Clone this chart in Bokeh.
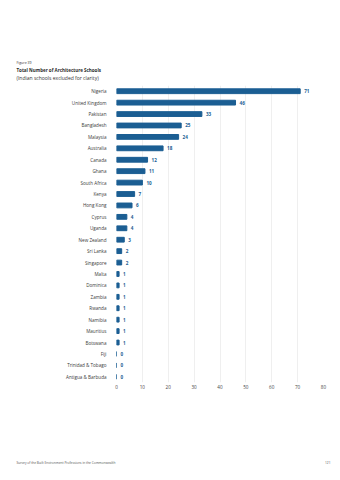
from bokeh.plotting import figure
from bokeh.models import ColumnDataSource, Title, FixedTicker
from bokeh.core.properties import value
from bokeh.embed import file_html
from bokeh.resources import INLINE

countries = ["Nigeria", "United Kingdom", "Pakistan", "Bangladesh", "Malaysia", "Australia",
             "Canada", "Ghana", "South Africa", "Kenya", "Hong Kong", "Cyprus", "Uganda",
             "New Zealand", "Sri Lanka", "Singapore", "Malta", "Dominica", "Zambia", "Rwanda",
             "Namibia", "Mauritius", "Botswana", "Fiji", "Trinidad & Tobago", "Antigua & Barbuda"]
schools = [71, 46, 33, 25, 24, 18, 12, 11, 10, 7, 6, 4, 4, 3, 2, 2, 1, 1, 1, 1, 1, 1, 1, 0, 0, 0]
x_ticks = [0, 10, 20, 30, 40, 50, 60, 70, 80]

BLUE = "#1b5e93"
FONT = "Open Sans"

# frame placement (canvas pixels)
FL, FR, FT, FB = 116, 323, 85, 382

src = ColumnDataSource(dict(c=countries, v=schools, t=[str(s) for s in schools]))

p = figure(width=340, height=480, y_range=list(reversed(countries)), x_range=(0, 80),
           output_backend="svg", toolbar_location=None,
           min_border_left=FL, min_border_right=340 - FR, min_border_top=FT,
           min_border_bottom=480 - FB)
p.outline_line_color = None
p.background_fill_color = "white"
p.border_fill_color = "white"
p.y_range.range_padding = 0.0

p.hbar(y="c", right="v", left=0, height=0.42, source=src, color=BLUE)
p.text(x="v", y="c", text="t", source=src, x_offset=4, text_align="left", text_baseline="middle",
       text_font=value(FONT), text_font_size="4.6px", text_font_style="bold", text_color=BLUE)

p.xaxis.ticker = FixedTicker(ticks=x_ticks)
p.xaxis.axis_line_color = None
p.xaxis.major_tick_line_color = None
p.xaxis.minor_tick_line_color = None
p.xaxis.major_tick_out = 0
p.xaxis.major_tick_in = 0
p.xaxis.minor_tick_out = 0
p.xaxis.major_label_text_font = FONT
p.xaxis.major_label_text_font_size = "4.6px"
p.xaxis.major_label_text_color = "#444444"
p.xaxis.major_label_standoff = 2

p.yaxis.axis_line_color = None
p.yaxis.major_tick_line_color = None
p.yaxis.major_tick_out = 0
p.yaxis.major_tick_in = 0
p.yaxis.major_label_text_font = FONT
p.yaxis.major_label_text_font_size = "4.6px"
p.yaxis.major_label_text_color = "#3a3a3a"
p.yaxis.major_label_standoff = 10

p.ygrid.grid_line_color = None
p.xgrid.grid_line_color = "#e4e4e4"
p.xgrid.grid_line_width = 0.6


def style_title(t, size, bold=False, color="#333333", standoff=0):
    t.align = "left"
    t.offset = 16 - FL
    t.standoff = standoff
    t.text_font = FONT
    t.text_font_size = size
    t.text_font_style = "bold" if bold else "normal"
    t.text_color = color


# titles above the frame: the first added sits closest to the frame, p.title outermost
sub = Title(text="(Indian schools excluded for clarity)")
style_title(sub, "5px", standoff=10)
p.add_layout(sub, "above")

main = Title(text="Total Number of Architecture Schools")
style_title(main, "4.5px", bold=True, color="#2a2a2a", standoff=-10)
p.add_layout(main, "above")

p.title.text = "Figure 39"
style_title(p.title, "3.5px", standoff=6)

# footer below the axis
spacer = Title(text=" ")
style_title(spacer, "1px", standoff=64)
p.add_layout(spacer, "below")

foot = Title(text="Survey of the Built Environment Professions in the Commonwealth")
style_title(foot, "3.2px", color="#555555")
p.add_layout(foot, "below")

page = Title(text="121")
style_title(page, "3.2px", color="#555555", standoff=-8)
page.align = "right"
page.vertical_align = "top"
page.offset = -7
p.add_layout(page, "below")

open("out.html", "w").write(file_html(p, INLINE))
